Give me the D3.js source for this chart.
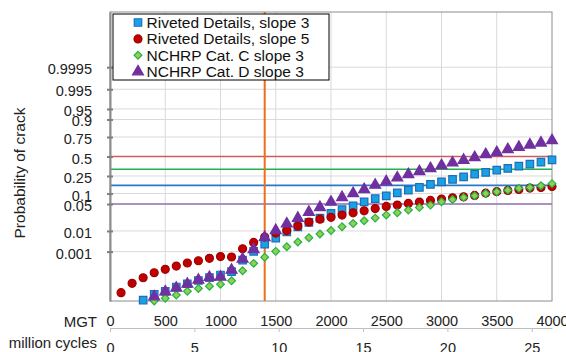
<!DOCTYPE html>
<html>
<head>
<meta charset="utf-8">
<script src="https://cdn.jsdelivr.net/npm/d3@7"></script>
<style>
  body { margin: 0; background: #fff; }
  svg { font-family: Arial, "Liberation Sans", sans-serif; }
  .axis text { font-size: 14.5px; fill: #222; }
</style>
</head>
<body>
<div id="chart"></div>
<script>
// MGT for every point, 100..4000
const mgt = d3.range(100, 4001, 100);

// probability of crack (null = no point)
const rivetedSlope3 = [null, null, 3.4e-7, 9.3e-7, 1.54e-6, 3.15e-6, 5.36e-6, 8.89e-6, 1.40e-5, 2.06e-5,
  3.35e-5, 1.70e-4, 5.15e-4, 1.22e-3, 2.39e-3, 4.59e-3, 7.50e-3, 0.0113, 0.0165, 0.0245,
  0.0330, 0.0440, 0.0584, 0.0725, 0.0868, 0.1045, 0.1223, 0.1422, 0.1670, 0.1905,
  0.2139, 0.2410, 0.2709, 0.2906, 0.3182, 0.3397, 0.3689, 0.3956, 0.4226, 0.4536];
const rivetedSlope5 = [1.22e-6, 5.71e-6, 1.36e-5, 2.89e-5, 4.73e-5, 7.52e-5, 1.14e-4, 1.55e-4, 2.12e-4, 2.68e-4,
  2.52e-4, 7.07e-4, 1.48e-3, 2.65e-3, 4.02e-3, 5.18e-3, 8.02e-3, 0.0116, 0.0151, 0.0176,
  0.0213, 0.0257, 0.0301, 0.0357, 0.0421, 0.0463, 0.0523, 0.0573, 0.0643, 0.0702,
  0.0765, 0.0816, 0.0891, 0.1025, 0.1121, 0.1201, 0.1273, 0.1370, 0.1422, 0.1503];
const nchrpC = [null, null, null, 2.87e-7, 4.62e-7, 8.2e-7, 1.54e-6, 2.45e-6, 3.53e-6, 4.95e-6,
  8.6e-6, 3.86e-5, 1.09e-4, 2.43e-4, 5.15e-4, 8.95e-4, 1.53e-3, 2.47e-3, 3.64e-3, 5.18e-3,
  7.50e-3, 0.0103, 0.0131, 0.0165, 0.0213, 0.0257, 0.0318, 0.0391, 0.0463, 0.0584,
  0.0688, 0.0785, 0.0868, 0.1007, 0.1108, 0.1223, 0.1351, 0.1422, 0.1551, 0.1739];
const nchrpD = [null, null, null, 6.13e-7, 1.44e-6, 2.67e-6, 5.12e-6, 9.58e-6, 1.45e-5, 1.52e-5,
  4.28e-5, 1.94e-4, 6.40e-4, 2.57e-3, 5.29e-3, 9.95e-3, 0.0165, 0.0271, 0.0391, 0.0573,
  0.0785, 0.1007, 0.1273, 0.1611, 0.1924, 0.2301, 0.2675, 0.3024, 0.3397, 0.3786,
  0.4130, 0.4499, 0.4868, 0.5283, 0.5557, 0.5963, 0.6267, 0.6564, 0.6815, 0.7105];

const seriesNames = ["Riveted Details, slope 3", "Riveted Details, slope 5", "NCHRP Cat. C slope 3", "NCHRP Cat. D slope 3"];

// y axis ticks (positions in probability, and the labels printed there)
const tickProbs = [0.999, 0.99, 0.95, 0.9, 0.75, 0.5, 0.25, 0.1, 0.05, 0.005, 0.0005];
const tickLabels = ["0.9995", "0.995", "0.95", "0.9", "0.75", "0.5", "0.25", "0.1", "0.05", "0.01", "0.001"];
const mgtTicks = d3.range(0, 4001, 500);
const cycleTicks = [0, 5, 10, 15, 20, 25];

// reference lines
const refProbs = [0.5, 0.33, 0.159, 0.05];
const refColors = ["#cd5c5c", "#22b14c", "#2a78c6", "#9672b4"];
const markMgt = 1400;

const width = 566, height = 352;
const margin = {top: 12, right: 14, bottom: 51, left: 110};
const innerW = width - margin.left - margin.right;
const innerH = height - margin.top - margin.bottom;

// inverse normal cdf (Acklam)
function probit(p) {
  const a = [-3.969683028665376e+01, 2.209460984245205e+02, -2.759285104469687e+02, 1.383577518672690e+02, -3.066479806614716e+01, 2.506628277459239e+00];
  const b = [-5.447609879822406e+01, 1.615858368580409e+02, -1.556989798598866e+02, 6.680131188771972e+01, -1.328068155288572e+01];
  const c = [-7.784894002430293e-03, -3.223964580411365e-01, -2.400758277161838e+00, -2.549732539343734e+00, 4.374664141464968e+00, 2.938163982698783e+00];
  const d = [7.784695709041462e-03, 3.224671290700398e-01, 2.445134137142996e+00, 3.754408661907416e+00];
  const pl = 0.02425;
  let q, r;
  if (p < pl) {
    q = Math.sqrt(-2 * Math.log(p));
    return (((((c[0]*q+c[1])*q+c[2])*q+c[3])*q+c[4])*q+c[5]) / ((((d[0]*q+d[1])*q+d[2])*q+d[3])*q+1);
  }
  if (p <= 1 - pl) {
    q = p - 0.5; r = q * q;
    return (((((a[0]*r+a[1])*r+a[2])*r+a[3])*r+a[4])*r+a[5])*q / (((((b[0]*r+b[1])*r+b[2])*r+b[3])*r+b[4])*r+1);
  }
  q = Math.sqrt(-2 * Math.log(1 - p));
  return -(((((c[0]*q+c[1])*q+c[2])*q+c[3])*q+c[4])*q+c[5]) / ((((d[0]*q+d[1])*q+d[2])*q+d[3])*q+1);
}

const xScale = d3.scaleLinear().domain([0, 4000]).range([0, innerW]);
const cycScale = d3.scaleLinear().domain([0, 26.2]).range([0, innerW]);
const zScale = d3.scaleLinear().domain([-5, 5]).range([innerH, 0]);
const yP = p => zScale(probit(p));

const svg = d3.select("#chart").append("svg")
  .attr("width", width)
  .attr("height", height);

const g = svg.append("g")
  .attr("transform", `translate(${margin.left},${margin.top})`);

// grid
g.append("g").selectAll("line")
  .data(tickProbs)
  .join("line")
  .attr("x1", 0).attr("x2", innerW)
  .attr("y1", d => yP(d)).attr("y2", d => yP(d))
  .attr("stroke", "#d9d9d9");

g.append("g").selectAll("line")
  .data(mgtTicks.slice(1, -1))
  .join("line")
  .attr("x1", d => xScale(d)).attr("x2", d => xScale(d))
  .attr("y1", 0).attr("y2", innerH)
  .attr("stroke", "#d9d9d9");

// frame
g.append("rect")
  .attr("width", innerW).attr("height", innerH)
  .attr("fill", "none")
  .attr("stroke", "#8c8c8c");

// reference lines
g.append("g").selectAll("line")
  .data(refProbs)
  .join("line")
  .attr("x1", 0).attr("x2", innerW)
  .attr("y1", d => yP(d)).attr("y2", d => yP(d))
  .attr("stroke", (d, i) => refColors[i])
  .attr("stroke-width", 1.6);

g.append("line")
  .attr("x1", xScale(markMgt)).attr("x2", xScale(markMgt))
  .attr("y1", 0).attr("y2", innerH)
  .attr("stroke", "#ee6e1a")
  .attr("stroke-width", 2);

// left axis
const yAxis = g.append("g")
  .attr("class", "axis")
  .call(d3.axisLeft(zScale)
    .tickValues(tickProbs.map(probit))
    .tickFormat((d, i) => tickLabels[i])
    .tickSizeInner(3)
    .tickSizeOuter(0)
    .tickPadding(15));
yAxis.select(".domain").attr("stroke", "#8c8c8c").attr("stroke-width", 2);
yAxis.selectAll(".tick line").attr("x2", -3).attr("x1", 3).attr("stroke", "#7f7f7f").attr("stroke-width", 2);
yAxis.selectAll(".tick text").attr("dy", "0.45em");

// MGT axis
const xAxis = g.append("g")
  .attr("class", "axis")
  .attr("transform", `translate(0,${innerH})`)
  .call(d3.axisBottom(xScale).tickValues(mgtTicks).tickFormat(d3.format("d")).tickSize(0).tickPadding(15));
xAxis.select(".domain").remove();

// million cycles axis
const cAxis = g.append("g")
  .attr("class", "axis")
  .attr("transform", `translate(0,${innerH + 27})`)
  .call(d3.axisBottom(cycScale).tickValues(cycleTicks).tickSizeInner(4).tickSizeOuter(0).tickPadding(11));
cAxis.select(".domain").attr("stroke", "#bfbfbf");
cAxis.selectAll(".tick line").attr("stroke", "#bfbfbf");

svg.append("text")
  .attr("x", 97).attr("y", 327)
  .attr("text-anchor", "end")
  .style("font-size", "15px")
  .attr("fill", "#222")
  .text("MGT");

svg.append("text")
  .attr("x", 97).attr("y", 348)
  .attr("text-anchor", "end")
  .style("font-size", "15px")
  .attr("fill", "#222")
  .text("million cycles");

svg.append("text")
  .attr("transform", "rotate(-90)")
  .attr("x", -173)
  .attr("y", 25)
  .attr("text-anchor", "middle")
  .style("font-size", "15.5px")
  .attr("fill", "#222")
  .text("Probability of crack");

// markers (diamond = square turned 45 degrees)
const styles = [
  {sym: d3.symbolSquare, size: 56, rot: 0, fill: "#17a2e6", stroke: "#1f6db8"},
  {sym: d3.symbolCircle, size: 50, rot: 0, fill: "#c00000", stroke: "#a00000"},
  {sym: d3.symbolSquare, size: 30, rot: 45, fill: "#92d050", stroke: "#22b14c"},
  {sym: d3.symbolTriangle, size: 52, rot: 0, fill: "#7030a0", stroke: "#7030a0"}
];
const allSeries = [rivetedSlope3, rivetedSlope5, nchrpC, nchrpD];

allSeries.forEach((vals, si) => {
  const st = styles[si];
  const pts = mgt.map((m, i) => ({m, p: vals[i]})).filter(d => d.p != null);
  g.append("g").selectAll("path")
    .data(pts)
    .join("path")
    .attr("d", d3.symbol().type(st.sym).size(st.size))
    .attr("transform", d => `translate(${xScale(d.m)},${yP(d.p)}) rotate(${st.rot})`)
    .attr("fill", st.fill)
    .attr("stroke", st.stroke)
    .attr("stroke-width", 1.2);
});

// legend
const legend = svg.append("g").attr("transform", "translate(113,14)");
legend.append("rect")
  .attr("width", 216).attr("height", 66)
  .attr("fill", "#fff")
  .attr("stroke", "#000");
seriesNames.forEach((name, i) => {
  const st = styles[i];
  const row = legend.append("g").attr("transform", `translate(0,${8.5 + i * 16.4})`);
  row.append("path")
    .attr("d", d3.symbol().type(st.sym).size(st.size))
    .attr("transform", `translate(25,0) rotate(${st.rot})`)
    .attr("fill", st.fill)
    .attr("stroke", st.stroke)
    .attr("stroke-width", 1.2);
  row.append("text")
    .attr("x", 33.5)
    .attr("y", 5.5)
    .style("font-size", "15.5px")
    .attr("fill", "#111")
    .text(name);
});
</script>
</body>
</html>
